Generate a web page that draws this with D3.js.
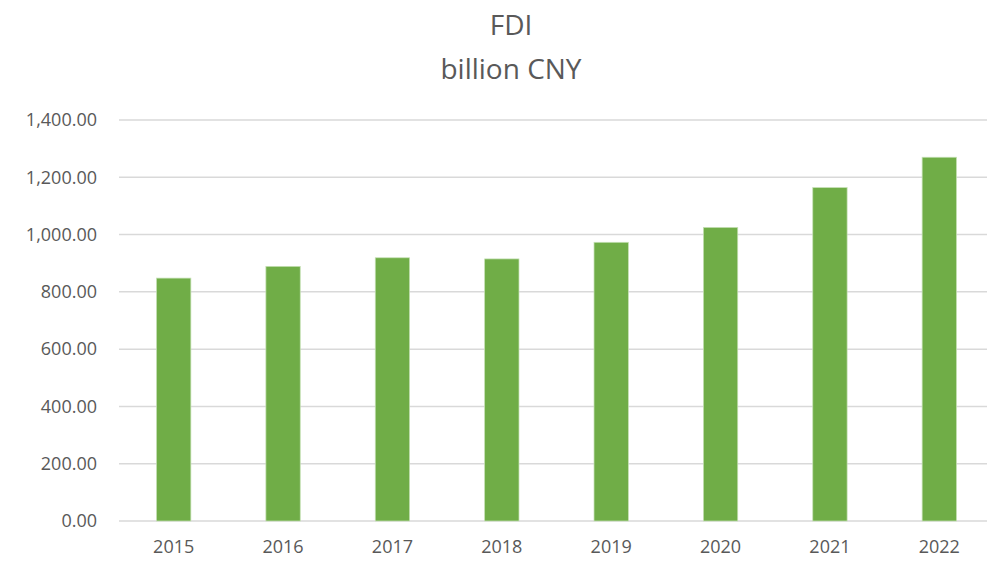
<!DOCTYPE html>
<html>
<head>
<meta charset="utf-8">
<script src="https://cdn.jsdelivr.net/npm/d3@7"></script>
<style>
  body { margin: 0; background: #fff; }
  svg { display: block; }
</style>
</head>
<body>
<div id="chart"></div>
<script>
const years = ["2015", "2016", "2017", "2018", "2019", "2020", "2021", "2022"];
const fdi = [848, 889, 919, 915, 973, 1025, 1164, 1270];
const yTicks = [0, 200, 400, 600, 800, 1000, 1200, 1400];
const titleLines = ["FDI", "billion CNY"];

const width = 987, height = 561;
const margin = {top: 120, right: -7, bottom: 40, left: 119};
const innerW = width - margin.left - margin.right;
const innerH = height - margin.top - margin.bottom;

const svg = d3.select("#chart")
    .append("svg")
    .attr("width", width)
    .attr("height", height)
    .style("font-family", "'Open Sans', sans-serif");

// title
svg.append("g")
    .selectAll("text")
    .data(titleLines)
    .enter()
    .append("text")
    .attr("x", 511)
    .attr("y", (d, i) => 35 + i * 44)
    .attr("text-anchor", "middle")
    .attr("fill", "#595959")
    .style("font-size", "28px")
    .text(d => d);

const g = svg.append("g")
    .attr("transform", "translate(" + margin.left + "," + margin.top + ")");

const x = d3.scaleBand()
    .domain(years)
    .range([0, innerW])
    .paddingInner(0.686)
    .paddingOuter(0.343);

const y = d3.scaleLinear()
    .domain([0, 1400])
    .range([innerH, 0]);

// gridlines
g.append("g")
    .selectAll("line")
    .data(yTicks)
    .enter()
    .append("line")
    .attr("x1", 0)
    .attr("x2", innerW)
    .attr("y1", d => y(d))
    .attr("y2", d => y(d))
    .attr("stroke", "#d9d9d9")
    .attr("stroke-width", 1.5);

// y axis labels
const yAxis = g.append("g")
    .call(d3.axisLeft(y).tickValues(yTicks).tickSize(0).tickPadding(22)
        .tickFormat(d3.format(",.2f")));
yAxis.select(".domain").remove();
yAxis.selectAll("text")
    .attr("fill", "#595959")
    .style("font-size", "18px")
    .style("font-family", "'Open Sans', sans-serif");

// x axis labels
const xAxis = g.append("g")
    .attr("transform", "translate(0," + innerH + ")")
    .call(d3.axisBottom(x).tickSize(0).tickPadding(19));
xAxis.select(".domain").remove();
xAxis.selectAll("text")
    .attr("fill", "#595959")
    .style("font-size", "18px")
    .style("font-family", "'Open Sans', sans-serif");

// bars
g.append("g")
    .selectAll("rect")
    .data(fdi)
    .enter()
    .append("rect")
    .attr("x", (d, i) => x(years[i]))
    .attr("y", d => y(d))
    .attr("width", x.bandwidth())
    .attr("height", d => innerH - y(d))
    .attr("fill", "#70ad47")
    .attr("stroke", "#c5e0b4")
    .attr("stroke-width", 0.75);
</script>
</body>
</html>
